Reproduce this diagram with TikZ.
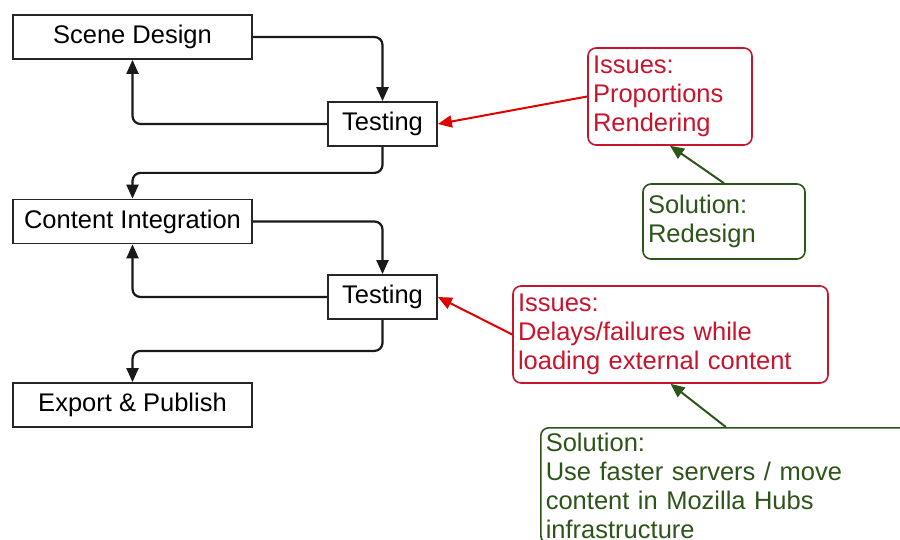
\documentclass[tikz,border=0pt]{standalone}
\usepackage{fontspec}
\setmainfont{Liberation Sans}
\usetikzlibrary{arrows.meta,calc}
\definecolor{ired}{RGB}{200,20,45}
\definecolor{ared}{RGB}{225,0,0}
\definecolor{sgreen}{RGB}{45,85,25}
\begin{document}
\begin{tikzpicture}[x=1pt,y=-1pt, font=\fontsize{25.5}{29}\selectfont,
  proc/.style={draw=black!85, line width=1.8pt, minimum height=44pt, inner sep=0pt},
  flow/.style={draw=black!90, line width=2.2pt, rounded corners=8pt, -{Triangle[length=14pt,width=12pt]}},
  issue/.style={draw=ired, text=ired, line width=1.6pt, rounded corners=8pt, align=left, inner xsep=5pt, inner ysep=5pt},
  sol/.style={draw=sgreen, text=sgreen, line width=1.6pt, rounded corners=8pt, align=left, inner xsep=5pt, inner ysep=5pt},
  redarr/.style={draw=ared, line width=2pt, -{Triangle[length=14pt,width=12pt]}},
  grnarr/.style={draw=sgreen, line width=2pt, -{Triangle[length=14pt,width=12pt]}}
]
\useasboundingbox (0,0) rectangle (900,540);
\fill[white] (0,0) rectangle (900,540);

\node[proc, minimum width=239pt] (sd) at (132.5,37) {Scene Design};
\node[proc, minimum width=109pt] (t1) at (382.5,124) {Testing};
\node[proc, minimum width=239pt] (ci) at (132.5,221.5) {Content Integration};
\node[proc, minimum width=109pt] (t2) at (382.5,297) {Testing};
\node[proc, minimum width=239pt] (ep) at (132.5,405) {Export \& Publish};

\node[issue, text width=154pt, minimum height=97pt] (i1) at (670,96.5) {Issues:\\Proportions\\Rendering};
\node[issue, text width=305pt, minimum height=97pt] (i2) at (670.5,334.5) {Issues:\\Delays/failures while\\loading external content};
\node[sol, text width=152pt, minimum height=75pt] (s1) at (724,221.5) {Solution:\\Redesign};
\node[sol, text width=360pt, anchor=north west] (s2) at (540,427) {Solution:\\Use faster servers / move\\content in Mozilla Hubs\\infrastructure};

\draw[flow] (sd.east) -| (t1.north);
\draw[flow] (t1.west) -| (sd.south);
\draw[flow] (t1.south) -- ++(0,26) -| (ci.north);
\draw[flow] (ci.east) -| (t2.north);
\draw[flow] (t2.west) -| (ci.south);
\draw[flow] (t2.south) -- ++(0,31) -| (ep.north);

\draw[redarr] (i1.west) -- (t1.east);
\draw[redarr] (i2.west) -- (t2.east);
\draw[grnarr] (s1.north) -- (i1.south);
\draw[grnarr] (s2.north) -- (i2.south);
\end{tikzpicture}
\end{document}
